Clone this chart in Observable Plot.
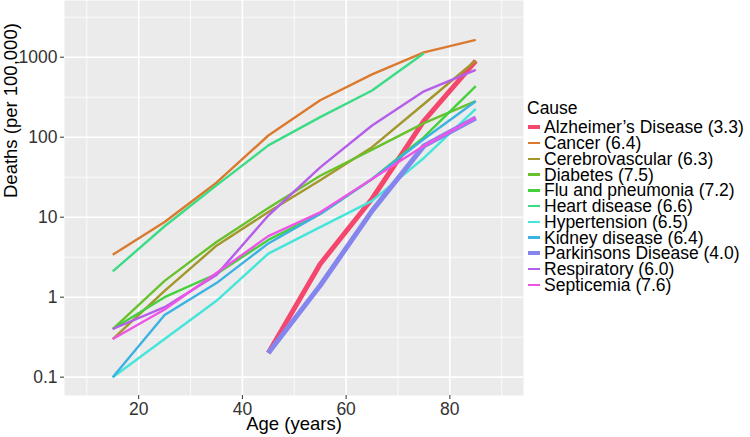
<!DOCTYPE html>
<html><head><meta charset="utf-8">
<script src="https://cdn.jsdelivr.net/npm/d3@7"></script>
<script src="https://cdn.jsdelivr.net/npm/@observablehq/plot@0.6"></script>
<style>
body{margin:0;background:#fff;font-family:"Liberation Sans",Arial,sans-serif;}
#wrap{position:relative;width:750px;height:437px;overflow:hidden;}
#legend{position:absolute;left:527px;top:0;font-size:17.5px;color:#000;}
#legend .title{position:absolute;left:0;white-space:nowrap;line-height:18px;}
#legend .row{position:absolute;left:0;white-space:nowrap;height:16px;line-height:16px;}
#legend .sw{position:absolute;left:1px;width:12px;}
#legend .lab{position:absolute;left:17px;top:0;}
</style></head><body><div id="wrap"></div>
<script>
const ages = [15, 25, 35, 45, 55, 65, 75, 85];
const causes = ["Alzheimer\u2019s Disease (3.3)", "Cancer (6.4)", "Cerebrovascular (6.3)", "Diabetes (7.5)",
  "Flu and pneumonia (7.2)", "Heart disease (6.6)", "Hypertension (6.5)", "Kidney disease (6.4)",
  "Parkinsons Disease (4.0)", "Respiratory (6.0)", "Septicemia (7.6)"];
const colors = ["#F5476E", "#DB7A2E", "#A3962B", "#67C22C", "#45D13E", "#3CDB86", "#45E5DA", "#3BB2E2",
  "#8585EE", "#B45EEA", "#EE55E6"];
const thick = ["Alzheimer\u2019s Disease (3.3)", "Parkinsons Disease (4.0)"];

const alzheimers      = [null, null, null, 0.2, 2.6, 17, 160, 900];
const cancer          = [3.4, 8.7, 27, 105, 290, 610, 1150, 1650];
const cerebrovascular = [0.3, 1.2, 4.4, 11.6, 29, 75, 260, 910];
const diabetes        = [0.4, 1.6, 4.9, 13, 33, 70, 150, 282];
const flu             = [0.4, 1.0, 1.95, 5.2, 11, 30, 100, 434];
const heart           = [2.1, 7.7, 25, 79, 178, 383, 1120, null];
const hypertension    = [0.1, 0.3, 0.9, 3.5, 7.5, 16, 55, 226];
const kidney          = [0.1, 0.6, 1.5, 4.7, 11, 30, 95, 282];
const parkinsons      = [null, null, null, 0.2, 1.4, 12, 78, 174];
const respiratory     = [0.4, 0.75, 1.9, 10.5, 42, 140, 375, 695];
const septicemia      = [0.3, 0.7, 2.0, 5.8, 11.5, 30, 78, 176];
const series = [alzheimers, cancer, cerebrovascular, diabetes, flu, heart, hypertension, kidney,
  parkinsons, respiratory, septicemia];

const xMajor = [20, 40, 60, 80];
const xMinor = [10, 30, 50, 70, 90];
const yMajor = [0.1, 1, 10, 100, 1000];
const yMinor = [0.316, 3.16, 31.6, 316, 3162];
const xTitle = "Age (years)";
const yTitle = "Deaths (per 100,000)";

const rows = [];
causes.forEach((c, i) => series[i].forEach((v, j) => { if (v != null) rows.push({cause: c, age: ages[j], value: v}); }));

const lineMarks = causes.map(c => Plot.line(rows.filter(d => d.cause === c), {
  x: "age", y: "value", stroke: "cause", strokeWidth: thick.includes(c) ? 5 : 2.4,
  strokeLinejoin: "round", strokeLinecap: "butt"
}));

const chart = Plot.plot({
  width: 750, height: 437,
  marginLeft: 64, marginRight: 227, marginTop: 0, marginBottom: 42,
  style: {fontFamily: "Liberation Sans, Arial, sans-serif", fontSize: "17.5px", color: "#222", background: "white"},
  x: {domain: [5.7, 94.2]},
  y: {type: "log", domain: [0.059, 5117]},
  color: {domain: causes, range: colors},
  marks: [
    Plot.frame({fill: "#EBEBEB", stroke: null}),
    Plot.ruleX(xMinor, {stroke: "white", strokeWidth: 0.8}),
    Plot.ruleY(yMinor, {stroke: "white", strokeWidth: 0.8}),
    Plot.ruleX(xMajor, {stroke: "white", strokeWidth: 1.6}),
    Plot.ruleY(yMajor, {stroke: "white", strokeWidth: 1.6}),
    ...lineMarks,
    Plot.axisX({ticks: xMajor, tickSize: 4, tickPadding: 3, fontSize: 17.5, stroke: "#333", fill: "#333", label: null}),
    Plot.axisY({ticks: yMajor, tickSize: 4, tickPadding: 3, fontSize: 17.5, stroke: "#333", fill: "#333",
      tickFormat: d => String(d), label: null}),
    Plot.text([xTitle], {text: d => d, frameAnchor: "bottom", dy: 29, lineAnchor: "middle", fontSize: 18.5, fill: "black"}),
    Plot.text([yTitle], {text: d => d, frameAnchor: "left", dx: -53, rotate: -90, lineAnchor: "middle", fontSize: 18.5, fill: "black"})
  ]
});

const wrap = document.getElementById("wrap");
wrap.appendChild(chart);

const legend = document.createElement("div");
legend.id = "legend";
const title = document.createElement("div");
title.className = "title"; title.textContent = "Cause"; title.style.top = (108 - 9) + "px";
legend.appendChild(title);
causes.forEach((c, i) => {
  const row = document.createElement("div");
  row.className = "row";
  row.style.top = (127.3 + i * 15.77 - 8) + "px";
  const sw = document.createElement("div");
  sw.className = "sw";
  const h = thick.includes(c) ? 4 : 2.5;
  sw.style.height = h + "px"; sw.style.top = (8 - h / 2) + "px"; sw.style.background = colors[i];
  const lab = document.createElement("span");
  lab.className = "lab"; lab.textContent = c;
  row.appendChild(sw); row.appendChild(lab);
  legend.appendChild(row);
});
wrap.appendChild(legend);
</script></body></html>
